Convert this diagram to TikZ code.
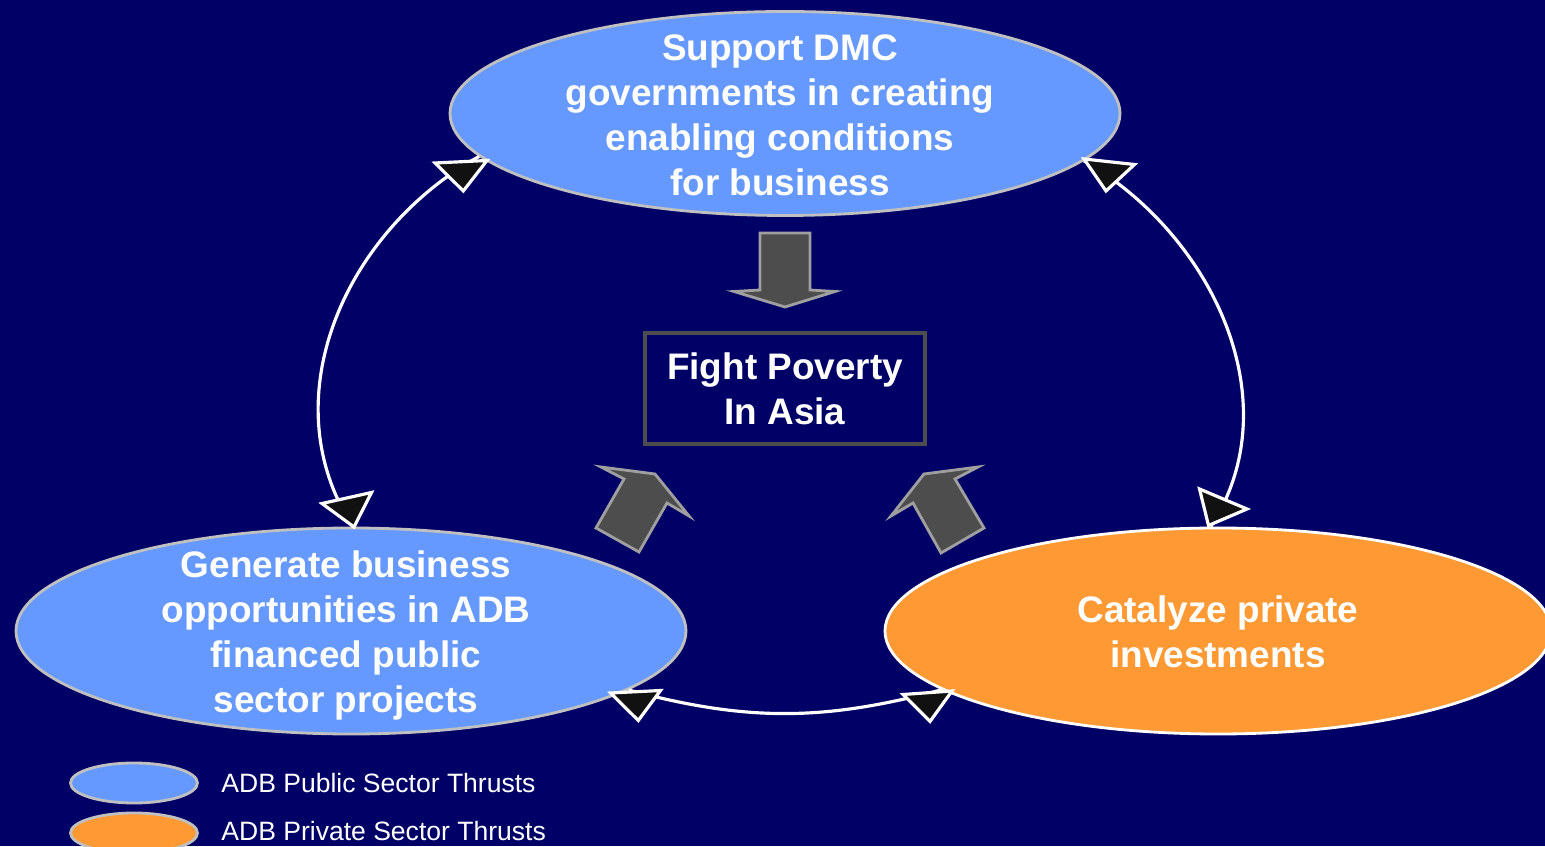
\documentclass[tikz,border=0pt]{standalone}
\usepackage{fontspec}
\setmainfont{Liberation Sans}
\usetikzlibrary{shapes.geometric, arrows.meta}
\definecolor{navybg}{HTML}{000066}
\definecolor{pubblue}{HTML}{6699FF}
\definecolor{privorange}{HTML}{FF9933}
\definecolor{rimgray}{HTML}{C0C0C0}
\definecolor{blockfill}{HTML}{4D4D4D}
\definecolor{blockrim}{HTML}{9F9F9F}
\definecolor{tipblack}{HTML}{111111}

\begin{document}
\begin{tikzpicture}[
    thrust/.style={ellipse, inner sep=0pt, line width=0.8pt},
    public/.style={thrust, fill=pubblue, draw=rimgray},
    private/.style={thrust, fill=privorange, draw=white},
    thrusttext/.style={text=white, align=center, font=\bfseries\fontsize{10.5}{12.8}\selectfont},
    keyshape/.style={ellipse, inner sep=0pt, minimum width=1.27cm, minimum height=0.40cm,
        draw=rimgray, line width=0.8pt},
    keytext/.style={anchor=west, text=white, font=\fontsize{7.55}{9}\selectfont},
    block/.style={fill=blockfill, draw=blockrim, line width=0.8pt, line join=miter},
    link/.style={draw=white, line width=0.9pt},
    tiphead/.style={fill=tipblack, draw=white, line width=0.9pt, line join=miter}]
    \fill[navybg] (0,0) rectangle (15.45,8.46);
    \useasboundingbox (0,0) rectangle (15.45,8.46);

    \node[public, minimum width=6.70cm, minimum height=2.04cm,
        label={[thrusttext, xshift=-0.05cm, yshift=-0.02cm]center:{Support DMC\\governments in creating\\enabling conditions\\for business}}]
        (e_top) at (7.85,7.325) {};
    \node[public, minimum width=6.70cm, minimum height=2.06cm,
        label={[thrusttext, xshift=-0.05cm, yshift=-0.04cm]center:{Generate business\\opportunities in ADB\\financed public\\sector projects}}]
        (e_left) at (3.51,2.15) {};
    \node[private, minimum width=6.66cm, minimum height=2.06cm,
        label={[thrusttext, yshift=-0.01cm]center:{Catalyze private\\investments}}]
        (e_right) at (12.18,2.15) {};
    \node[draw=blockfill, line width=0.9pt, minimum width=2.80cm, minimum height=1.11cm,
        thrusttext] (goal) at (7.85,4.575) {Fight Poverty\\In Asia};

    \draw[block] (7.60,6.13) -- (8.10,6.13) -- (8.10,5.56) -- (8.35,5.545) -- (7.85,5.39)
        -- (7.34,5.545) -- (7.60,5.56) -- cycle;
    \draw[block] (6.01,3.79) -- (6.55,3.72) -- (6.89,3.30) -- (6.67,3.43) -- (6.39,2.94)
        -- (5.96,3.18) -- (6.24,3.67) -- cycle;
    \draw[block] (9.78,3.79) -- (9.24,3.72) -- (8.91,3.30) -- (9.13,3.43) -- (9.41,2.93)
        -- (9.84,3.18) -- (9.55,3.67) -- cycle;

    \path[link]
        (e_top.188.7) edge[out=209, in=123] (e_left.89)
        (e_top.351.3) edge[out=-30, in=57, looseness=0.98] (e_right.94.4)
        (e_left.-12.7) edge[out=-15, in=195] (e_right.192.6);

    \draw[tiphead] (4.35,6.83) -- (4.87,6.855) -- (4.633,6.55) -- cycle;
    \draw[tiphead] (3.22,3.425) -- (3.715,3.535) -- (3.54,3.19) -- cycle;
    \draw[tiphead] (10.84,6.87) -- (11.345,6.815) -- (11.06,6.55) -- cycle;
    \draw[tiphead] (11.995,3.57) -- (12.47,3.37) -- (12.085,3.205) -- cycle;
    \draw[tiphead] (6.105,1.53) -- (6.605,1.555) -- (6.383,1.255) -- cycle;
    \draw[tiphead] (9.03,1.515) -- (9.52,1.55) -- (9.30,1.245) -- cycle;

    \node[keyshape, fill=pubblue] (key_pub) at (1.34,0.63) {};
    \node[keyshape, fill=privorange] (key_priv) at (1.34,0.13) {};
    \node[keytext] at (2.09,0.63) {ADB Public Sector Thrusts};
    \node[keytext] at (2.09,0.15) {ADB Private Sector Thrusts};
\end{tikzpicture}
\end{document}
